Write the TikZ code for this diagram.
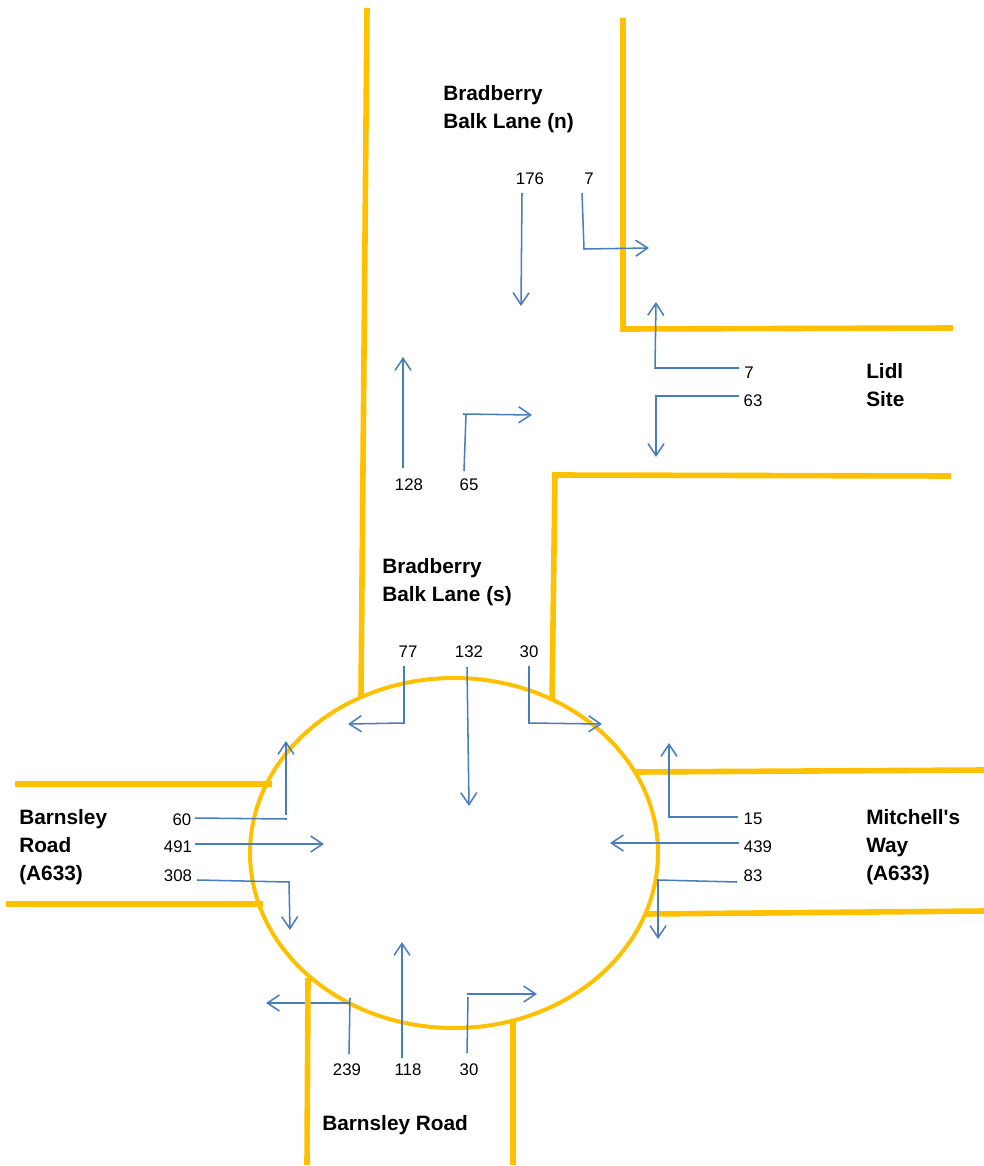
\documentclass[tikz,border=0pt]{standalone}
\usepackage{fontspec}
\setmainfont{Liberation Sans}
\usepackage{xcolor}
\usetikzlibrary{arrows.meta,shapes.geometric}
\definecolor{rbroad}{HTML}{FFC000}
\definecolor{rbflow}{HTML}{4A7EBB}

\begin{document}
\begin{tikzpicture}[x=0.75pt,y=-0.75pt,>={Straight Barb[length=9pt,width=12pt]}]
  \tikzstyle{road}=[draw=rbroad,line width=4.2pt]
  \tikzstyle{ring}=[draw=rbroad,line width=3pt,ellipse,minimum width=306pt,minimum height=262.5pt,inner sep=0pt]
  \tikzstyle{flow}=[draw=rbflow,line width=1.15pt,line join=miter]
  \tikzstyle{count}=[font=\fontsize{12.6}{15}\selectfont,inner sep=0pt]
  \tikzstyle{place}=[font=\fontsize{15.6}{20.8}\selectfont\bfseries,inner sep=0pt,anchor=west,align=left]
  \useasboundingbox (0,0) rectangle (984,1166);
  % roundabout
  \node[ring] (rbt) at (454,853) {};
  % road edges
  \draw[road] (367,8) -- (361,697);
  \draw[road] (623,18) -- (623,329) -- (953,328);
  \draw[road] (951,476) -- (555,475) -- (552,700);
  \draw[road] (15,784) -- (272,784);
  \draw[road] (6,904) -- (263,904);
  \draw[road] (635,772) -- (984,770);
  \draw[road] (645,914) -- (984,911);
  \draw[road] (513,1021) -- (513,1165);
  % place names
  \node[place] (bbn) at (443,109) {Bradberry\\Balk Lane (n)};
  \node[place] (bbs) at (382,582) {Bradberry\\Balk Lane (s)};
  \node[place] (lidl) at (866,385) {Lidl\\Site};
  \node[place] (mway) at (866,847) {Mitchell\textquotesingle s\\Way\\(A633)};
  \node[place] (brd) at (19,847) {Barnsley\\Road\\(A633)};
  \node[place] (brs) at (322,1125) {Barnsley Road};
  % counts, north junction
  \node[count] (n176) at (530,179) {176};
  \node[count] (n7a) at (589,179) {7};
  \node[count] (n7b) at (749,373) {7};
  \node[count] (n63) at (753,401) {63};
  \node[count] (n128) at (409,485) {128};
  \node[count] (n65) at (469,485) {65};
  % counts, roundabout
  \node[count] (n77) at (408,652) {77};
  \node[count] (n132) at (469,652) {132};
  \node[count] (n30a) at (529,652) {30};
  \node[count] (n60) at (182,820) {60};
  \node[count] (n491) at (178,847) {491};
  \node[count] (n308) at (178,876) {308};
  \node[count] (n15) at (753,819) {15};
  \node[count] (n439) at (758,847) {439};
  \node[count] (n83) at (753,876) {83};
  \node[count] (n239) at (347,1070) {239};
  \node[count] (n118) at (408,1070) {118};
  \node[count] (n30b) at (469,1070) {30};
  % flow ends and corners
  \coordinate (s176) at (522,193); \coordinate (e176) at (521,306);
  \coordinate (s7a) at (582,193); \coordinate (c7a) at (584,249); \coordinate (e7a) at (649,248);
  \coordinate (s7b) at (739,368); \coordinate (c7b) at (655,368); \coordinate (e7b) at (656,302);
  \coordinate (s63) at (739,396); \coordinate (c63) at (656,396); \coordinate (e63) at (656,457);
  \coordinate (s128) at (403,468); \coordinate (e128) at (403,357);
  \coordinate (s65) at (464,471); \coordinate (c65) at (466,415); \coordinate (d65) at (463,414); \coordinate (e65) at (532,415);
  \coordinate (s77) at (404,666); \coordinate (c77) at (404,723); \coordinate (e77) at (348,724);
  \coordinate (s132) at (467,667); \coordinate (e132) at (469,806);
  \coordinate (s30a) at (529,666); \coordinate (c30a) at (529,723); \coordinate (e30a) at (602,724);
  \coordinate (s60) at (195,818); \coordinate (c60) at (287,819); \coordinate (d60) at (286,815); \coordinate (e60) at (286,741);
  \coordinate (s491) at (195,844); \coordinate (e491) at (324,844);
  \coordinate (s308) at (197,880); \coordinate (c308) at (289,882); \coordinate (e308) at (290,930);
  \coordinate (s15) at (738,817); \coordinate (c15) at (669,817); \coordinate (e15) at (669,743);
  \coordinate (s439) at (739,843); \coordinate (e439) at (610,843);
  \coordinate (s83) at (737,882); \coordinate (c83) at (658,880); \coordinate (e83) at (658,939);
  \coordinate (s239) at (349,1054); \coordinate (c239) at (350,998); \coordinate (d239) at (350,1003); \coordinate (e239) at (266,1003);
  \coordinate (s118) at (402,1058); \coordinate (e118) at (402,942);
  \coordinate (s30b) at (467,1053); \coordinate (c30b) at (468,997); \coordinate (d30b) at (467,994); \coordinate (e30b) at (537,994);
  % flows
  \draw[flow,->] (s176) -- (e176);
  \draw[flow,->] (s7a) -- (c7a) -- (e7a);
  \draw[flow,->] (s7b) -- (c7b) -- (e7b);
  \draw[flow,->] (s63) -- (c63) -- (e63);
  \draw[flow,->] (s128) -- (e128);
  \draw[flow] (s65) -- (c65);
  \draw[flow,->] (d65) -- (e65);
  \draw[flow,->] (s77) -- (c77) -- (e77);
  \draw[flow,->] (s132) -- (e132);
  \draw[flow,->] (s30a) -- (c30a) -- (e30a);
  \draw[flow] (s60) -- (c60);
  \draw[flow,->] (d60) -- (e60);
  \draw[flow,->] (s491) -- (e491);
  \draw[flow,->] (s308) -- (c308) -- (e308);
  \draw[flow,->] (s15) -- (c15) -- (e15);
  \draw[flow,->] (s439) -- (e439);
  \draw[flow,->] (s83) -- (c83) -- (e83);
  \draw[flow] (s239) -- (c239);
  \draw[flow,->] (d239) -- (e239);
  \draw[flow,->] (s118) -- (e118);
  \draw[flow] (s30b) -- (c30b);
  \draw[flow,->] (d30b) -- (e30b);
  % this edge sits over the 239 arrow
  \draw[road] (308,978) -- (307,1165);
\end{tikzpicture}
\end{document}
